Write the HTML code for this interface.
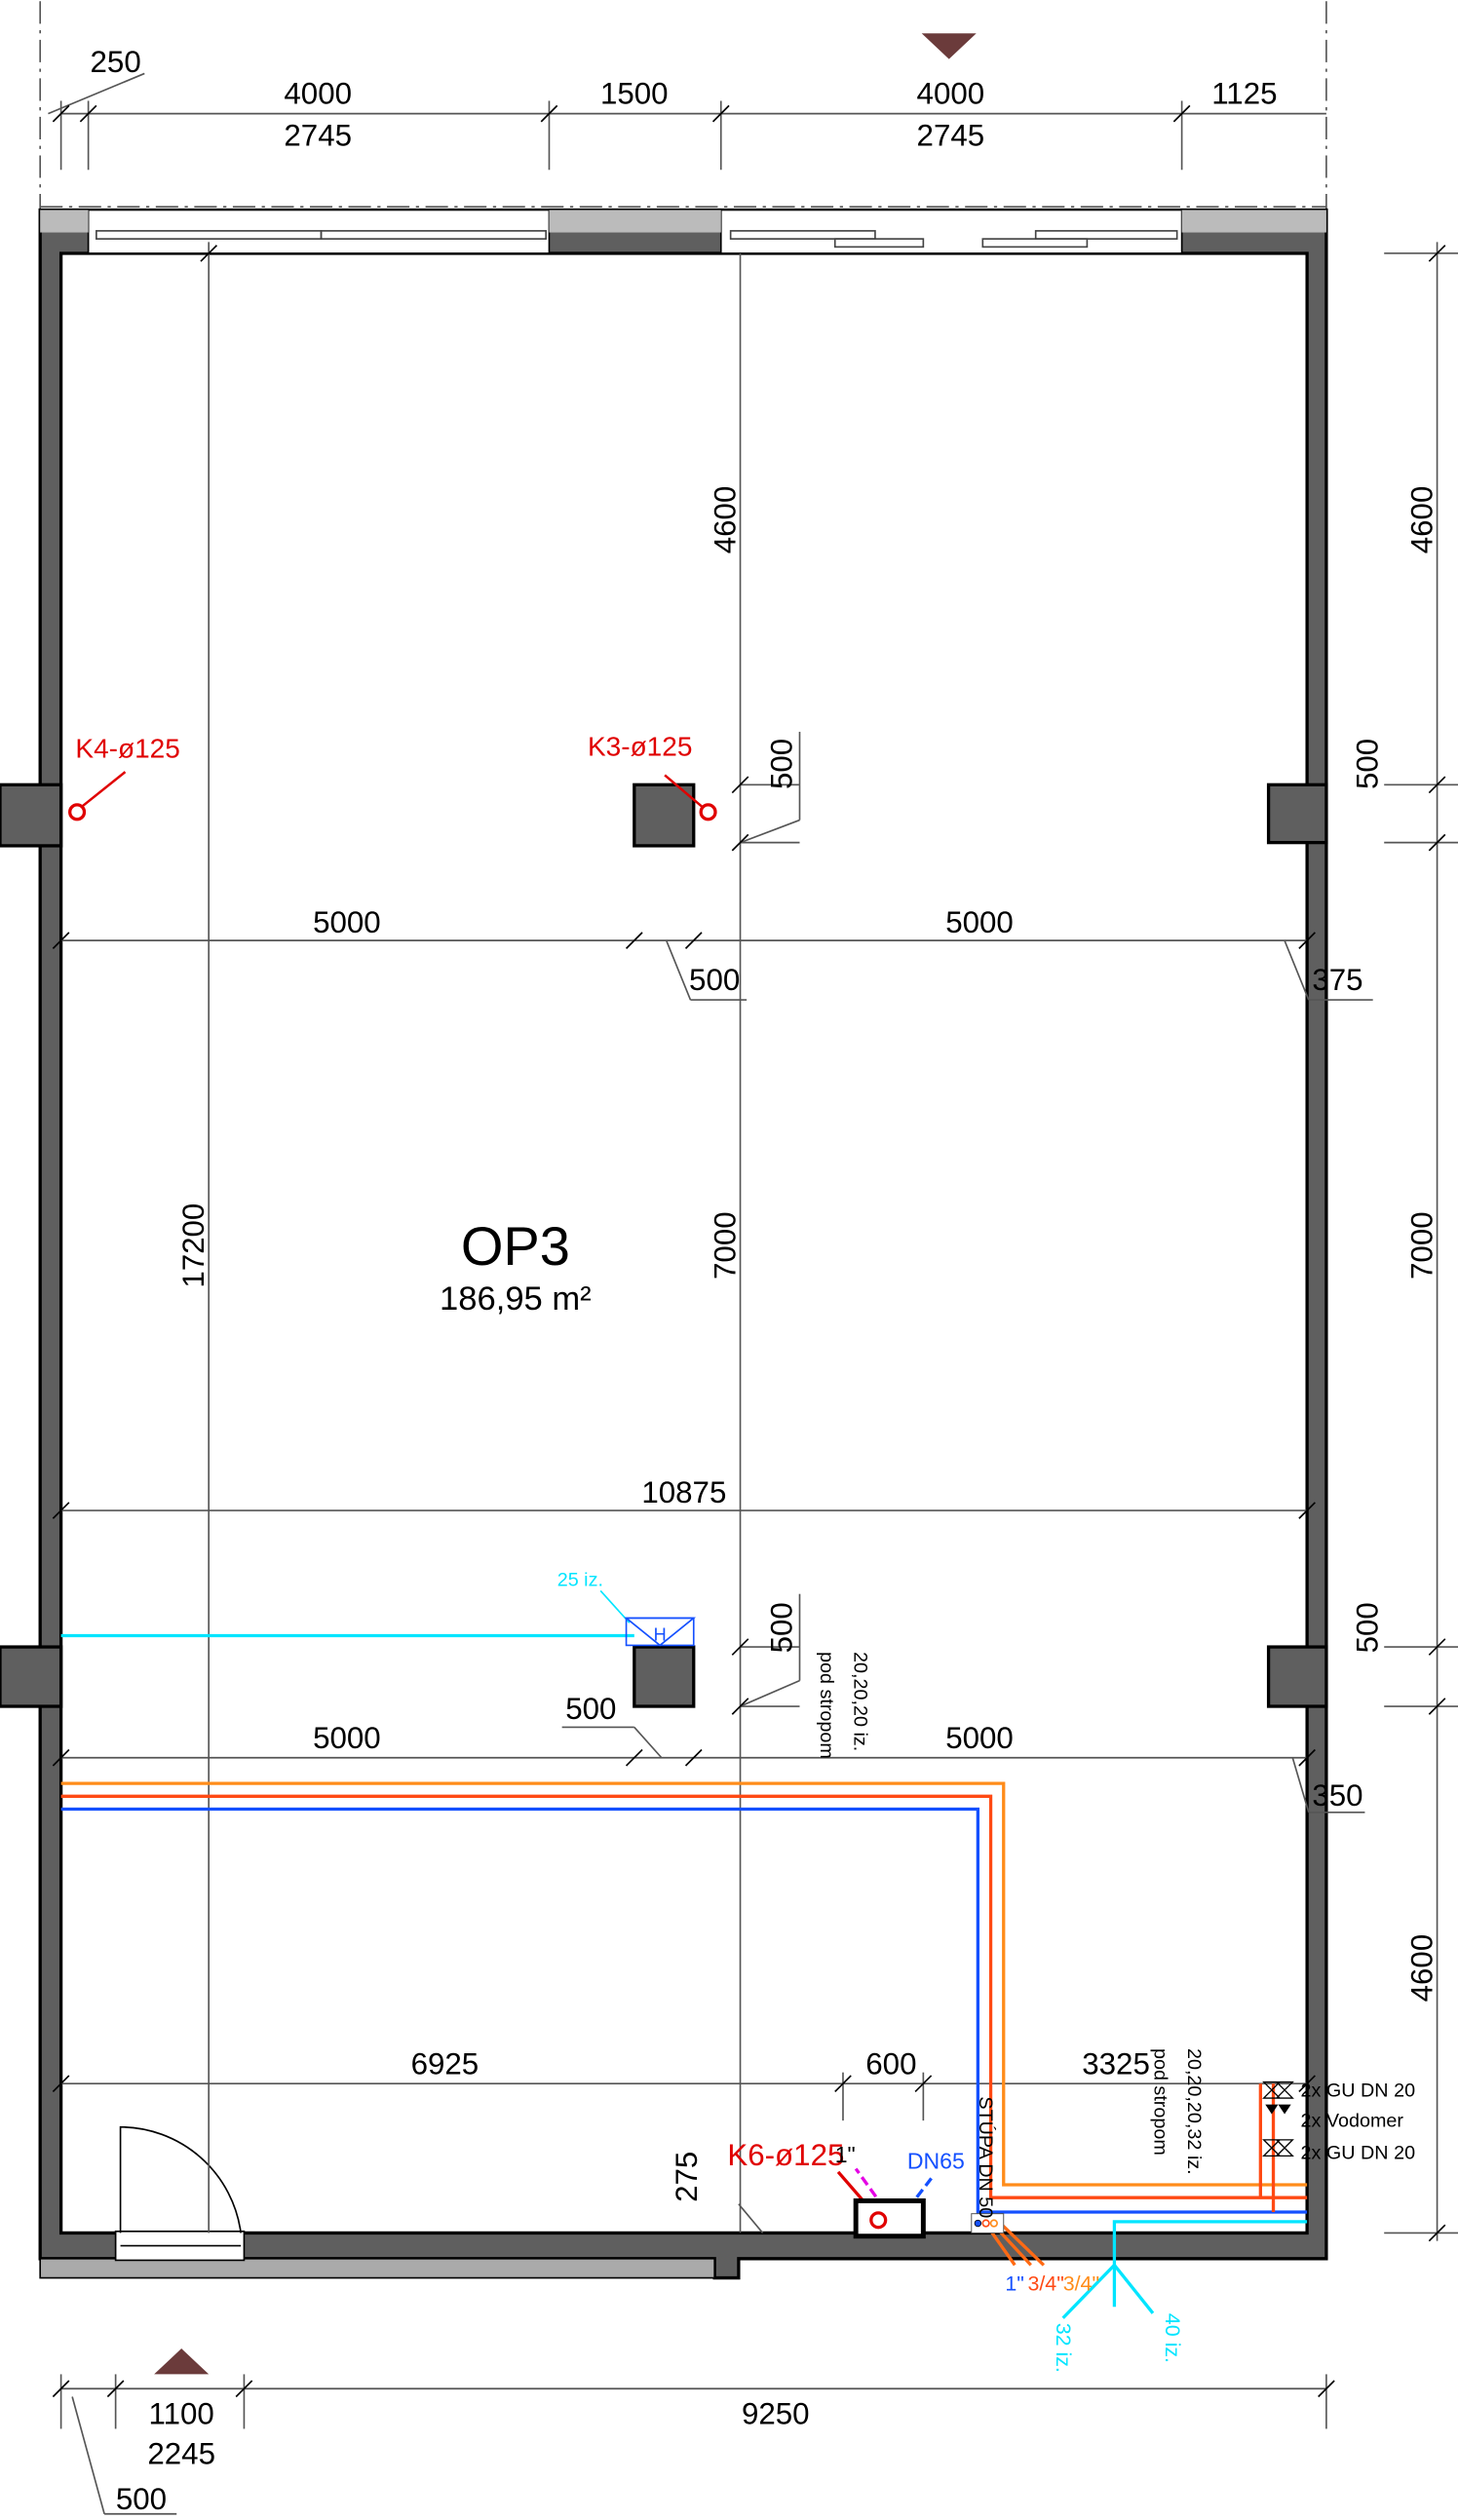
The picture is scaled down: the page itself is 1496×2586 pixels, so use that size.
<!DOCTYPE html>
<html><head><meta charset="utf-8"><style>html,body{margin:0;padding:0;background:#fff}svg{display:block}</style></head>
<body>
<svg width="1496" height="2586" viewBox="0 0 908 1568" xmlns="http://www.w3.org/2000/svg" font-family="Liberation Sans, sans-serif">
<rect width="908" height="1568" fill="#fff"/>
<g stroke="#555" stroke-width="1" stroke-dasharray="14,4,2,4" fill="none">
<line x1="25" y1="0" x2="25" y2="130"/><line x1="826" y1="0" x2="826" y2="130"/>
<line x1="25" y1="128" x2="826" y2="128"/>
</g>
<polygon points="574,20 608,20 591,36" fill="#6b3b3b"/>
<polygon points="96,1478 130,1478 113,1462" fill="#6b3b3b"/>
<path d="M25,130 H826 V1406 H460 V1418 H445 V1406 H25 Z M38,157 V1390 H814 V157 Z" fill="#5f5f5f" fill-rule="evenodd" stroke="#000" stroke-width="2"/>
<rect x="55" y="130" width="287" height="27" fill="#fff" stroke="#000" stroke-width="1"/>
<rect x="449" y="130" width="287" height="27" fill="#fff" stroke="#000" stroke-width="1"/>
<g stroke="#444" stroke-width="1" fill="none">
<rect x="60" y="143" width="140" height="5"/><rect x="200" y="143" width="140" height="5"/>
<rect x="455" y="143" width="90" height="5"/><rect x="520" y="148" width="55" height="5"/>
<rect x="645" y="143" width="88" height="5"/><rect x="612" y="148" width="65" height="5"/>
</g>
<rect x="25" y="130" width="30" height="14" fill="#bbb"/><rect x="342" y="130" width="107" height="14" fill="#bbb"/><rect x="736" y="130" width="90" height="14" fill="#bbb"/>
<rect x="25" y="1406" width="420" height="12" fill="#aaa" stroke="#000" stroke-width="1"/>
<rect x="72" y="1389" width="80" height="18" fill="#fff" stroke="#000" stroke-width="1"/>
<line x1="75" y1="1398" x2="150" y2="1398" stroke="#000"/>
<path d="M75,1390 V1324 A76,76 0 0 1 150,1390" fill="none" stroke="#000"/>
<g fill="#5f5f5f" stroke="#000" stroke-width="2">
<rect x="0" y="488" width="38" height="38"/><rect x="0" y="1025" width="38" height="37"/>
<rect x="790" y="488" width="36" height="36"/><rect x="790" y="1025" width="36" height="37"/>
<rect x="395" y="488" width="37" height="38"/><rect x="395" y="1025" width="37" height="37"/>
</g>
<g stroke="#555" stroke-width="1" fill="none">
<line x1="38" y1="70" x2="826" y2="70"/>
<line x1="38" y1="62" x2="38" y2="105"/><line x1="55" y1="62" x2="55" y2="105"/><line x1="342" y1="62" x2="342" y2="105"/><line x1="449" y1="62" x2="449" y2="105"/><line x1="736" y1="62" x2="736" y2="105"/>
<line x1="30" y1="70" x2="90" y2="45"/>
<line x1="130" y1="150" x2="130" y2="1390"/>
<line x1="461" y1="157" x2="461" y2="1390"/>
<line x1="38" y1="585" x2="814" y2="585"/>
<line x1="38" y1="940" x2="814" y2="940"/>
<line x1="38" y1="1094" x2="814" y2="1094"/>
<line x1="38" y1="1297" x2="814" y2="1297"/>
<line x1="862" y1="157" x2="908" y2="157"/><line x1="862" y1="488" x2="908" y2="488"/><line x1="862" y1="524" x2="908" y2="524"/><line x1="862" y1="1025" x2="908" y2="1025"/><line x1="862" y1="1062" x2="908" y2="1062"/><line x1="862" y1="1390" x2="908" y2="1390"/>
<line x1="895" y1="150" x2="895" y2="1395"/>
<line x1="38" y1="1487" x2="826" y2="1487"/>
<line x1="38" y1="1478" x2="38" y2="1512"/><line x1="72" y1="1478" x2="72" y2="1512"/><line x1="152" y1="1478" x2="152" y2="1512"/><line x1="826" y1="1478" x2="826" y2="1512"/>
<line x1="45" y1="1492" x2="65" y2="1565"/><line x1="65" y1="1565" x2="110" y2="1565"/>
<line x1="415" y1="585" x2="430" y2="622"/><line x1="430" y1="622" x2="465" y2="622"/>
<line x1="800" y1="585" x2="815" y2="622"/><line x1="815" y1="622" x2="855" y2="622"/>
<line x1="805" y1="1094" x2="815" y2="1128"/><line x1="815" y1="1128" x2="850" y2="1128"/>
<line x1="350" y1="1075" x2="395" y2="1075"/><line x1="395" y1="1075" x2="412" y2="1094"/>
<line x1="461" y1="488" x2="498" y2="488"/><line x1="461" y1="524" x2="498" y2="524"/><line x1="498" y1="455" x2="498" y2="510"/><line x1="498" y1="510" x2="461" y2="524"/>
<line x1="461" y1="1025" x2="498" y2="1025"/><line x1="461" y1="1062" x2="498" y2="1062"/><line x1="498" y1="992" x2="498" y2="1046"/><line x1="498" y1="1046" x2="461" y2="1062"/>
<line x1="525" y1="1290" x2="525" y2="1320"/><line x1="575" y1="1290" x2="575" y2="1320"/>
<line x1="460" y1="1372" x2="475" y2="1390"/>
</g>
<g stroke="#000" stroke-width="1">
<path d="M33,75 l10,-10 M50,75 l10,-10 M337,75 l10,-10 M444,75 l10,-10 M731,75 l10,-10 M33,1492 l10,-10 M67,1492 l10,-10 M147,1492 l10,-10 M821,1492 l10,-10 M33,590 l10,-10 M390,590 l10,-10 M427,590 l10,-10 M809,590 l10,-10 M33,945 l10,-10 M809,945 l10,-10 M33,1099 l10,-10 M390,1099 l10,-10 M427,1099 l10,-10 M809,1099 l10,-10 M33,1302 l10,-10 M520,1302 l10,-10 M570,1302 l10,-10 M809,1302 l10,-10 M456,493 l10,-10 M456,529 l10,-10 M456,1030 l10,-10 M456,1067 l10,-10 M125,162 l10,-10 M890,162 l10,-10 M890,493 l10,-10 M890,529 l10,-10 M890,1030 l10,-10 M890,1067 l10,-10 M890,1395 l10,-10"/>
</g>
<g fill="none" stroke-width="2">
<path d="M38,1110 H625 V1360 H814" stroke="#ff8c1a"/>
<path d="M38,1118 H617 V1368 H814" stroke="#ff4a14"/>
<path d="M38,1126 H609 V1377 H814" stroke="#1450ff"/>
<path d="M38,1018 H395" stroke="#00e5ff"/>
<path d="M694,1436 V1383 H814" stroke="#00e5ff"/>
<path d="M694,1410 L662,1443 M694,1410 L718,1440" stroke="#00e5ff"/>
<path d="M785,1297 V1368 M793,1297 V1377" stroke="#ff4a14"/>
<path d="M548,1382 L522,1352" stroke="#e00000"/>
<path d="M556,1382 L533,1350" stroke="#e400e4" stroke-dasharray="6,3"/>
<path d="M560,1382 L580,1356" stroke="#1450ff" stroke-dasharray="6,3"/>
<path d="M613,1383 L632,1410 M617,1383 L642,1410 M622,1383 L650,1410" stroke="#ff6a14"/>
<path d="M48,504 L78,480" stroke="#e00000" stroke-width="1.5"/>
<path d="M440,504 L414,482" stroke="#e00000" stroke-width="1.5"/>
<path d="M374,990 L392,1010" stroke="#00e5ff" stroke-width="1"/>
</g>
<circle cx="48" cy="505" r="4.5" fill="#fff" stroke="#e00000" stroke-width="2"/>
<circle cx="441" cy="505" r="4.5" fill="#fff" stroke="#e00000" stroke-width="2"/>
<rect x="533" y="1370" width="42" height="22" fill="#fff" stroke="#000" stroke-width="3"/>
<circle cx="547" cy="1382" r="4.5" fill="#fff" stroke="#e00000" stroke-width="2"/>
<rect x="605" y="1378" width="20" height="12" fill="#fff" stroke="#555" stroke-width="0.6"/>
<circle cx="609" cy="1384" r="2" fill="#1450ff" stroke="#000" stroke-width="0.5"/><circle cx="614" cy="1384" r="2" fill="none" stroke="#ff4a14"/><circle cx="619" cy="1384" r="2" fill="none" stroke="#ff8c1a"/>
<polygon points="390,1007 432,1007 411,1024" fill="#fff" stroke="#1450ff"/>
<rect x="390" y="1007" width="42" height="17" fill="none" stroke="#1450ff"/>
<text x="411" y="1021" font-size="11" fill="#1450ff" text-anchor="middle">H</text>
<g stroke="#000" stroke-width="0.8" fill="none">
<path d="M787,1296 l10,10 h-10 l10,-10 z M795,1296 l10,10 h-10 l10,-10 z M787,1332 l10,10 h-10 l10,-10 z M795,1332 l10,10 h-10 l10,-10 z"/>
</g>
<path d="M788,1310 h8 l-4,6 z M796,1310 h8 l-4,6 z" fill="#000"/>
<g font-size="19" fill="#000" text-anchor="middle">
<text x="72" y="44">250</text>
<text x="198" y="64">4000</text><text x="198" y="90">2745</text>
<text x="395" y="64">1500</text>
<text x="592" y="64">4000</text><text x="592" y="90">2745</text>
<text x="775" y="64">1125</text>
<text x="216" y="580">5000</text><text x="610" y="580">5000</text>
<text x="445" y="616">500</text><text x="833" y="616">375</text>
<text x="426" y="935">10875</text>
<text x="216" y="1088">5000</text><text x="610" y="1088">5000</text>
<text x="368" y="1070">500</text><text x="833" y="1124">350</text>
<text x="277" y="1291">6925</text><text x="555" y="1291">600</text><text x="695" y="1291">3325</text>
<text x="113" y="1509">1100</text><text x="113" y="1534">2245</text>
<text x="483" y="1509">9250</text>
<text x="88" y="1562">500</text>
<text transform="translate(458,323) rotate(-90)">4600</text>
<text transform="translate(458,775) rotate(-90)">7000</text>
<text transform="translate(127,775) rotate(-90)">17200</text>
<text transform="translate(493,475) rotate(-90)">500</text>
<text transform="translate(493,1013) rotate(-90)">500</text>
<text transform="translate(892,323) rotate(-90)">4600</text>
<text transform="translate(892,775) rotate(-90)">7000</text>
<text transform="translate(892,1225) rotate(-90)">4600</text>
<text transform="translate(858,475) rotate(-90)">500</text>
<text transform="translate(858,1013) rotate(-90)">500</text>
<text transform="translate(434,1355) rotate(-90)">275</text>
</g>
<text x="321" y="787" font-size="34" text-anchor="middle">OP3</text>
<text x="321" y="815" font-size="21" text-anchor="middle">186,95 m²</text>
<g font-size="17" fill="#e00000">
<text x="47" y="471">K4-ø125</text><text x="366" y="470">K3-ø125</text>
<text x="453" y="1348" font-size="19">K6-ø125</text>
</g>
<text x="520" y="1346" font-size="14">1"</text>
<text x="565" y="1350" font-size="14" fill="#1450ff">DN65</text>
<text x="347" y="987" font-size="12" fill="#00e5ff">25 iz.</text>
<text x="626" y="1426" font-size="13" fill="#1450ff">1"</text>
<text x="640" y="1426" font-size="13" fill="#ff4a14">3/4"</text>
<text x="662" y="1426" font-size="13" fill="#ff8c1a">3/4"</text>
<text transform="translate(658,1446) rotate(90)" font-size="13" fill="#00e5ff">32 iz.</text>
<text transform="translate(726,1440) rotate(90)" font-size="13" fill="#00e5ff">40 iz.</text>
<g font-size="12">
<text transform="translate(610,1305) rotate(90)">STÚPA DN 50</text>
<text transform="translate(740,1275) rotate(90)">20,20,20,32 iz.</text>
<text transform="translate(719,1275) rotate(90)">pod stropom</text>
<text transform="translate(532,1028) rotate(90)">20,20,20 iz.</text>
<text transform="translate(511,1028) rotate(90)">pod stropom</text>
<text x="810" y="1305">2x GU DN 20</text>
<text x="810" y="1324">2x Vodomer</text>
<text x="810" y="1344">2x GU DN 20</text>
</g>
</svg>
</body></html>
